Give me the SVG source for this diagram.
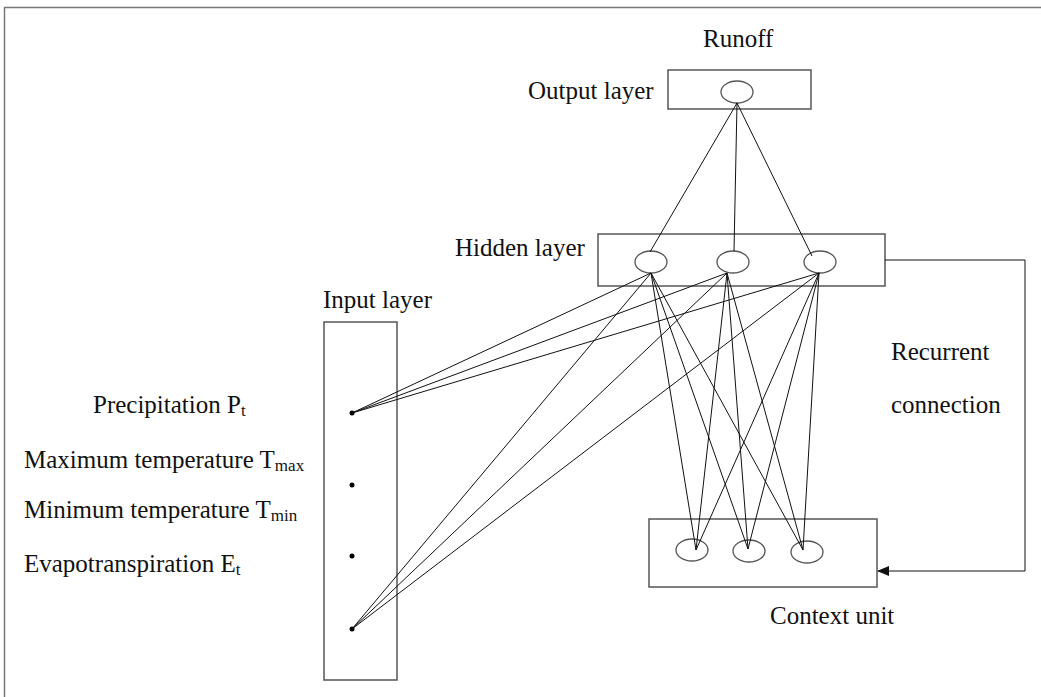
<svg xmlns="http://www.w3.org/2000/svg" width="1041" height="697" viewBox="0 0 1041 697">
<style>
.box{fill:#fff;stroke:#555;stroke-width:1.5}
.node{fill:#fff;stroke:#555;stroke-width:1.3}
.ln{stroke:#111;stroke-width:1;fill:none}
.t{font-family:"Liberation Serif","Times New Roman",serif;font-size:25px;fill:#111}
.sub{font-size:17px}
.frame{stroke:#777;stroke-width:1.5;fill:none}
</style>
<defs>
<marker id="arr" markerWidth="12" markerHeight="10" refX="11" refY="5" orient="auto" markerUnits="userSpaceOnUse">
<path d="M0,0 L12,5 L0,10 Z" fill="#111"/>
</marker>
</defs>
<rect width="1041" height="697" fill="#fff"/>
<path class="frame" d="M4.5,697 V7.5 H1041"/>

<g id="output-layer">
<rect class="box" x="668" y="70" width="143" height="39"/>
<ellipse class="node" cx="737" cy="92" rx="16" ry="11"/>
<text class="t" x="528" y="99">Output layer</text>
<text class="t" x="703" y="47">Runoff</text>
</g>

<g id="hidden-layer">
<rect class="box" x="598" y="234" width="287" height="52"/>
<ellipse class="node" cx="651" cy="262" rx="16" ry="11"/>
<ellipse class="node" cx="733" cy="262" rx="16" ry="11"/>
<ellipse class="node" cx="820" cy="262" rx="16" ry="11"/>
<text class="t" x="455" y="256">Hidden layer</text>
</g>

<g id="input-layer">
<rect class="box" x="324" y="322" width="73" height="358"/>
<circle cx="352" cy="413" r="2.5" fill="#000"/>
<circle cx="352" cy="485" r="2.5" fill="#000"/>
<circle cx="352" cy="556" r="2.5" fill="#000"/>
<circle cx="352" cy="629" r="2.5" fill="#000"/>
<text class="t" x="323" y="308">Input layer</text>
</g>

<g id="context-unit">
<rect class="box" x="649" y="519" width="228" height="68"/>
<ellipse class="node" cx="692" cy="550" rx="16" ry="11"/>
<ellipse class="node" cx="749" cy="551" rx="16" ry="11"/>
<ellipse class="node" cx="807" cy="552" rx="16" ry="11"/>
<text class="t" x="770" y="624">Context unit</text>
</g>

<g id="input-labels">
<text class="t" x="93" y="413">Precipitation P<tspan class="sub" dy="3">t</tspan></text>
<text class="t" x="24" y="468">Maximum temperature T<tspan class="sub" dy="3">max</tspan></text>
<text class="t" x="24" y="518">Minimum temperature T<tspan class="sub" dy="3">min</tspan></text>
<text class="t" x="24" y="572">Evapotranspiration E<tspan class="sub" dy="3">t</tspan></text>
</g>

<g id="recurrent-label">
<text class="t" x="891" y="360">Recurrent</text>
<text class="t" x="891" y="413">connection</text>
</g>

<g id="connectors">
<line class="ln" x1="737" y1="103" x2="650" y2="252"/>
<line class="ln" x1="737" y1="103" x2="734" y2="251"/>
<line class="ln" x1="737" y1="103" x2="812" y2="256"/>

<line class="ln" x1="352" y1="413" x2="651" y2="273"/>
<line class="ln" x1="352" y1="413" x2="727" y2="273"/>
<line class="ln" x1="352" y1="413" x2="819" y2="273"/>
<line class="ln" x1="352" y1="629" x2="651" y2="273"/>
<line class="ln" x1="352" y1="629" x2="727" y2="273"/>
<line class="ln" x1="352" y1="629" x2="819" y2="273"/>

<line class="ln" x1="651" y1="273" x2="696" y2="550"/>
<line class="ln" x1="651" y1="273" x2="748" y2="549"/>
<line class="ln" x1="651" y1="273" x2="803" y2="550"/>
<line class="ln" x1="727" y1="273" x2="696" y2="550"/>
<line class="ln" x1="727" y1="273" x2="748" y2="549"/>
<line class="ln" x1="727" y1="273" x2="803" y2="550"/>
<line class="ln" x1="819" y1="273" x2="696" y2="550"/>
<line class="ln" x1="819" y1="273" x2="748" y2="549"/>
<line class="ln" x1="819" y1="273" x2="803" y2="550"/>

<path class="ln" d="M885,260 H1025 V571 H878" stroke="#555" stroke-width="1.3" marker-end="url(#arr)"/>
</g>
</svg>
